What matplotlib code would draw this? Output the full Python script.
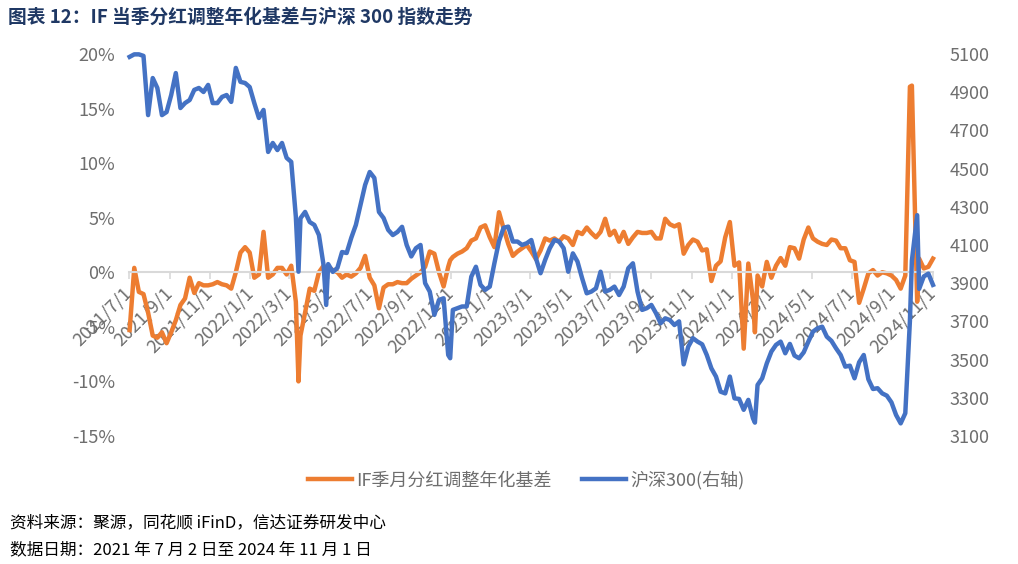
import numpy as np
import pandas as pd
import matplotlib
matplotlib.use("Agg")
import matplotlib.pyplot as plt
import matplotlib.dates as mdates
from matplotlib.ticker import FuncFormatter, FixedLocator

plt.rcParams["font.family"] = ["Noto Sans CJK SC", "DejaVu Sans"]

# weekly observations (Fridays), 2021-07-02 .. 2024-11-01
week_start = "2021-07-02"
n_weeks = 175

basis_weekly = [  # IF 季月分红调整年化基差, %
    -5.3, 0.4, -1.8, -2.0, -3.7, -5.8, -6.0, -5.5, -6.5, -5.5,
    -4.4, -3.0, -2.4, -0.5, -1.9, -1.0, -1.2, -1.2, -1.1, -0.9,
    -1.1, -1.2, -1.5, 0.0, 1.8, 2.3, 1.8, -0.5, -0.2, 3.7,
    -0.5, -0.2, 0.4, 0.4, -0.2, 0.6, -2.7, -5.8, -3.7, -1.5,
    -1.7, 0.0, 0.6, 0.5, 0.2, 0.0, -0.5, -0.2, -0.4, -0.1,
    0.4, 1.5, -0.5, -1.2, -3.3, -1.4, -1.1, -1.1, -0.9, -1.0,
    -1.0, -0.6, -0.3, 0.0, 0.5, 1.9, 1.7, 0.0, -1.3, 0.5,
    1.4, 1.7, 1.9, 2.2, 2.9, 3.1, 4.1, 4.3, 3.2, 2.3,
    5.5, 4.0, 2.6, 1.5, 1.9, 2.2, 2.5, 1.9, 1.2, 2.0,
    3.1, 2.9, 3.1, 2.8, 3.3, 3.1, 2.5, 3.7, 3.5, 4.1,
    3.6, 3.2, 3.7, 4.9, 3.4, 3.8, 2.8, 3.7, 2.6, 3.2,
    3.7, 3.6, 3.6, 3.7, 3.1, 3.1, 4.9, 4.4, 4.2, 4.4,
    1.7, 2.5, 3.0, 2.8, 2.0, 2.1, -0.8, 0.6, 1.0, 3.2,
    4.6, 0.6, 0.9, -7.0, 0.8, -2.5, -0.3, -1.3, 0.95, -0.5,
    0.6, 1.3, 0.6, 2.3, 2.2, 1.25, 3.0, 4.1, 3.1, 2.8,
    2.6, 2.5, 3.0, 2.9, 2.2, 2.2, 1.1, 0.95, -2.8, -1.5,
    -0.1, 0.2, -0.3, 0.0, -0.1, -0.3, -0.7, -1.5, -0.3, 17.0,
    np.nan, 1.25, 0.35, 0.5, 1.25,
]

csi300_weekly = [  # 沪深300 close
    5085, 5098, 5098, 5090, 4780, 4974, 4922, 4780, 4796, 4885,
    5000, 4817, 4843, 4859, 4912, 4922, 4901, 4938, 4843, 4843,
    4875, 4885, 4849, 5027, 4954, 4948, 4927, 4843, 4765, 4807,
    4587, 4634, 4597, 4634, 4556, 4535, 4247, 4240, 4273, 4220,
    4205, 4152, 3995, 4000, 3959, 3980, 4063, 4058, 4137, 4205,
    4310, 4414, 4482, 4451, 4273, 4241, 4179, 4152, 4168, 4195,
    4100, 4040, 4083, 4100, 3900, 3856, 3734, 3812, 3821, 3524,
    3760, 3769, 3778, 3778, 3934, 3986, 3891, 3865, 3882, 4004,
    4120, 4190, 4196, 4118, 4118, 4100, 4109, 4126, 4030, 3952,
    4022, 4083, 4126, 4118, 4083, 3960, 4056, 4013, 3926, 3847,
    3856, 3873, 3960, 3856, 3865, 3882, 3838, 3882, 3978, 4004,
    3856, 3760, 3769, 3786, 3743, 3690, 3716, 3707, 3681, 3700,
    3475, 3568, 3612, 3594, 3580, 3524, 3454, 3411, 3332, 3323,
    3411, 3297, 3294, 3237, 3289, 3193, 3367, 3402, 3480, 3542,
    3577, 3594, 3533, 3582, 3521, 3507, 3538, 3594, 3646, 3664,
    3672, 3620, 3598, 3559, 3524, 3463, 3468, 3402, 3486, 3524,
    3397, 3346, 3350, 3323, 3311, 3276, 3210, 3166, 3219, 3703,
    np.nan, 3870, 3935, 3950, 3891,
]

# extra daily points at sharp moves
spike_dates = ["2022-03-15", "2022-04-26", "2022-10-31", "2024-02-05", "2024-09-30", "2024-10-08"]
spike_basis = [-10.0, 0.3, 1.1, -5.5, 17.1, -2.7]
spike_csi300 = [3960, 3786, 3507, 3170, 4018, 4256]

dates = pd.date_range(week_start, periods=n_weeks, freq="7D")
df = pd.concat([
    pd.DataFrame({"date": dates, "basis": basis_weekly, "csi": csi300_weekly}),
    pd.DataFrame({"date": pd.to_datetime(spike_dates), "basis": spike_basis, "csi": spike_csi300}),
]).sort_values("date").dropna()

ORANGE = "#ED7D31"
BLUE = "#4472C4"
GRAY = "#6e6e6e"

fig = plt.figure(figsize=(10.18, 5.64), dpi=100)
ax = fig.add_axes([0.1267, 0.2270, 0.7898, 0.6773])
ax2 = ax.twinx()

l1, = ax.plot(df["date"], df["basis"], color=ORANGE, lw=3.2, clip_on=False,
              solid_joinstyle="round", label="IF季月分红调整年化基差")
l2, = ax2.plot(df["date"], df["csi"], color=BLUE, lw=3.2, clip_on=False,
               solid_joinstyle="round", label="沪深300(右轴)")

ax.set_xlim(pd.Timestamp("2021-07-01"), pd.Timestamp("2024-11-01"))
ax.set_ylim(-15, 20)
ax2.set_ylim(3100, 5100)
ax.set_yticks(np.arange(-15, 21, 5))
ax.yaxis.set_major_formatter(FuncFormatter(lambda v, p: f"{v:.0f}%"))
ax2.set_yticks(np.arange(3100, 5101, 200))

ticks = pd.date_range("2021-07-01", "2024-11-01", freq="2MS")
ax.xaxis.set_major_locator(FixedLocator(mdates.date2num(ticks)))
ax.xaxis.set_major_formatter(FuncFormatter(
    lambda v, p: (lambda d: f"{d.year}/{d.month}/{d.day}")(mdates.num2date(v))))

for a in (ax, ax2):
    for s in a.spines.values():
        s.set_visible(False)
ax.spines["bottom"].set_visible(True)
ax.spines["bottom"].set_position(("data", 0))
ax.spines["bottom"].set_color("#d9d9d9")
ax.spines["bottom"].set_linewidth(1.5)

ax.tick_params(axis="x", colors="#d9d9d9", length=5, width=1.2, pad=8, labelcolor=GRAY, labelsize=13)
for t in ax.get_xticklabels():
    t.set_rotation(45)
    t.set_ha("right")
    t.set_va("center")
    t.set_rotation_mode("anchor")
ax.tick_params(axis="y", length=0, pad=10, labelcolor=GRAY, labelsize=13)
ax2.tick_params(axis="y", length=0, pad=12, labelcolor=GRAY, labelsize=13)

fig.legend(handles=[l1, l2], loc="center", bbox_to_anchor=(0.517, 0.149), ncol=2,
           frameon=False, fontsize=13, labelcolor=GRAY, handlelength=2.4,
           columnspacing=1.7, handletextpad=0.25)

fig.text(0.008, 0.970, "图表 12：IF 当季分红调整年化基差与沪深 300 指数走势",
         fontsize=13.5, fontweight="bold", color="#1f3864", va="center", ha="left")
fig.text(0.010, 0.073, "资料来源：聚源，同花顺 iFinD，信达证券研发中心",
         fontsize=12, color="black", va="center", ha="left", style="italic")
fig.text(0.010, 0.025, "数据日期：2021 年 7 月 2 日至 2024 年 11 月 1 日",
         fontsize=12, color="black", va="center", ha="left", style="italic")

fig.savefig("out.png", dpi=100, facecolor="white")
